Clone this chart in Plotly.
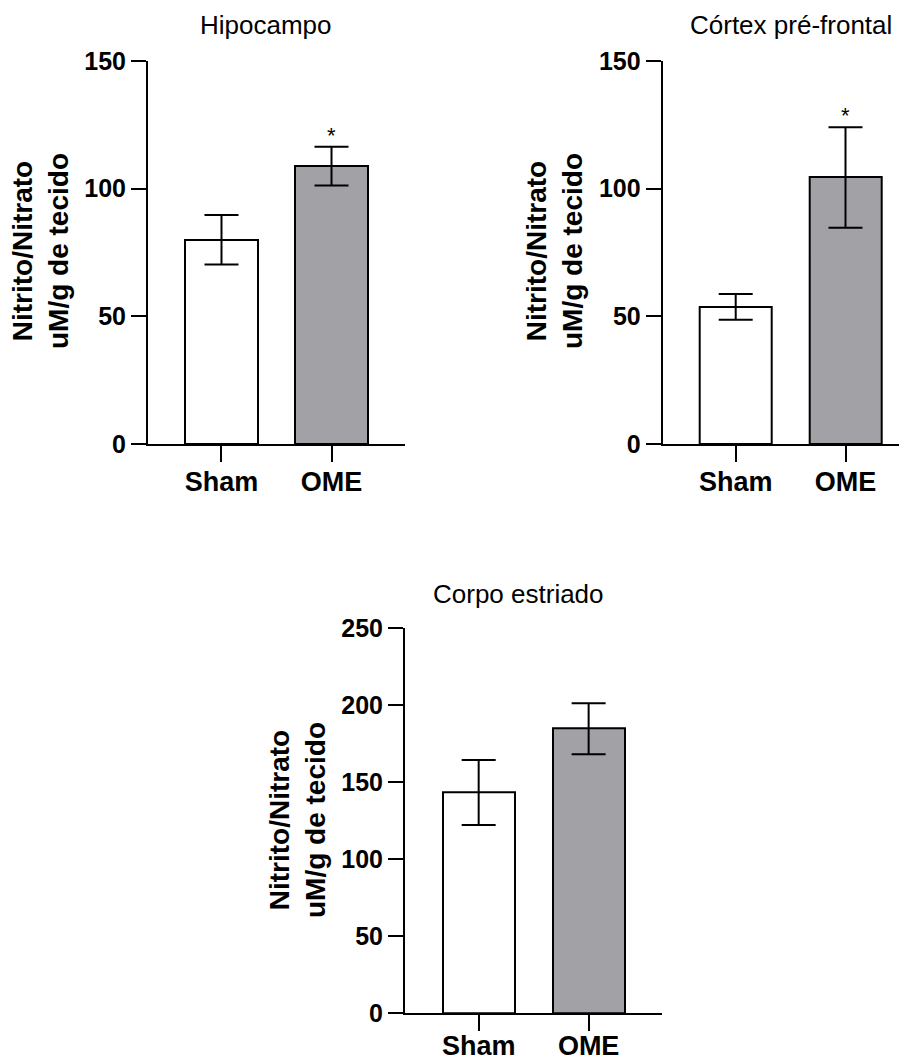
import plotly.graph_objects as go

categories = ["Sham", "OME"]

hipo_means = [80.0, 108.8]
hipo_sem = [9.7, 7.6]

pfc_means = [53.7, 104.4]
pfc_sem = [5.0, 19.7]

str_means = [143.4, 184.8]
str_sem = [21.1, 16.6]

titles = ["Hipocampo", "Córtex pré-frontal", "Corpo estriado"]
ytitle = "<b>Nitrito/Nitrato<br>uM/g de tecido</b>"
ticks_top = [0, 50, 100, 150]
ticks_bottom = [0, 50, 100, 150, 200, 250]

W, H = 907, 1060
OFF = 8  # page body margin of the html page
bar_colors = ["#ffffff", "#a1a1a6"]

def px(v):
    return (v - OFF) / W

def py(v):
    return 1 - (v - OFF) / H

fig = go.Figure()

panels = [
    (hipo_means, hipo_sem, "x", "y"),
    (pfc_means, pfc_sem, "x2", "y2"),
    (str_means, str_sem, "x3", "y3"),
]
for means, sem, xa, ya in panels:
    fig.add_trace(go.Bar(
        x=categories, y=means, xaxis=xa, yaxis=ya, width=0.656,
        marker=dict(color=bar_colors, line=dict(color="black", width=2)),
        error_y=dict(type="data", array=sem, color="black", thickness=2, width=17),
        showlegend=False, hoverinfo="skip",
    ))

font_family = "Liberation Sans, Arial, Helvetica, sans-serif"
xtickfont = dict(family=font_family, size=27, color="black", weight="bold")
ytickfont = dict(family=font_family, size=25, color="black", weight="bold")

def xax(domain, rng, standoff):
    return dict(domain=domain, range=rng, showline=True, linecolor="black", linewidth=2,
                ticks="outside", ticklen=16, tickwidth=2, tickcolor="black", automargin=False,
                ticklabelstandoff=standoff,
                tickfont=xtickfont, showgrid=False, zeroline=False, fixedrange=True)

def yax(domain, rng, tv):
    return dict(domain=domain, range=rng, tickvals=tv, showline=True, linecolor="black",
                linewidth=2, ticks="outside", ticklen=15, tickwidth=2, tickcolor="black",
                automargin=False,
                tickfont=ytickfont, showgrid=False, zeroline=False, fixedrange=True)

top_y = [py(444), py(61)]
bot_y = [py(1013.3), py(628.3)]

fig.update_layout(
    width=W, height=H, autosize=False,
    margin=dict(l=0, r=0, t=0, b=0),
    paper_bgcolor="white", plot_bgcolor="white",
    bargap=0,
    xaxis=dict(xax([px(148), px(405)], [-0.668, 1.668], -3), anchor="y"),
    yaxis=dict(yax(top_y, [0, 150], ticks_top), anchor="x"),
    xaxis2=dict(xax([px(662.7), 1.0], [-0.665, 1.633], -3), anchor="y2"),
    yaxis2=dict(yax(top_y, [0, 150], ticks_top), anchor="x2"),
    xaxis3=dict(xax([px(405), px(662.3)], [-0.67, 1.67], -9), anchor="y3"),
    yaxis3=dict(yax(bot_y, [0, 250], ticks_bottom), anchor="x3"),
)

annotations = []
title_font = dict(family=font_family, size=26, color="black")
for txt, xp, yp in [(titles[0], 266, 25.5), (titles[1], 791, 25.5), (titles[2], 519, 594)]:
    annotations.append(dict(text=txt, x=px(xp), y=py(yp), xref="paper", yref="paper",
                            xanchor="center", yanchor="middle", showarrow=False, font=title_font))

ytfont = dict(family=font_family, size=28, color="black")
for xp, yp in [(40, 251), (554, 251), (297, 820)]:
    annotations.append(dict(text=ytitle, x=px(xp), y=py(yp), xref="paper", yref="paper",
                            xanchor="center", yanchor="middle", showarrow=False, textangle=-90,
                            font=ytfont))

star_font = dict(family=font_family, size=22, color="black")
for means, sem, xa, ya in panels[:2]:
    annotations.append(dict(text="*", x=categories[1], y=means[1] + sem[1], xref=xa, yref=ya,
                            xanchor="center", yanchor="bottom", showarrow=False, yshift=-3,
                            font=star_font))

fig.update_layout(annotations=annotations)

fig.write_html("out.html")
